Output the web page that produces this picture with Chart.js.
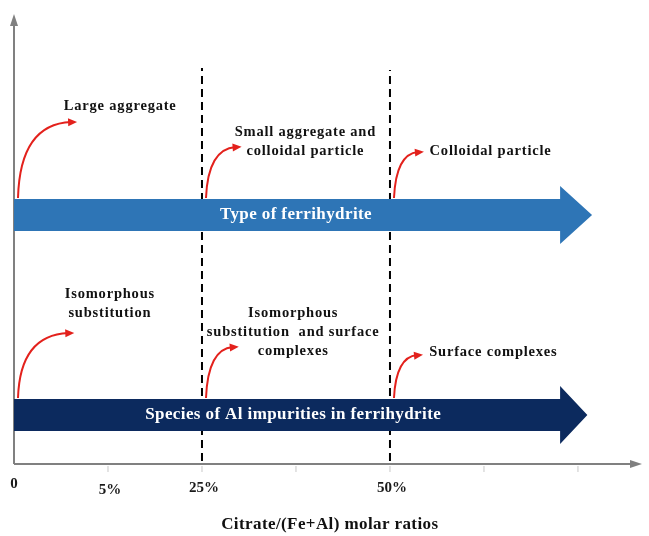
<!DOCTYPE html>
<html>
<head>
<meta charset="utf-8">
<script src="https://cdn.jsdelivr.net/npm/chart.js@4.4.0/dist/chart.umd.min.js"></script>
<style>
  html, body { margin: 0; padding: 0; background: #fff; }
  #wrap { width: 649px; height: 536px; }
</style>
</head>
<body>
<div id="wrap"><canvas id="myCanvas"></canvas></div>
<script>
// x axis: one unit per tick mark, y axis in plain height units
const tickLabels = ["0", "5%", "25%", "", "50%", "", ""];
const boundaries = [0, 2, 4];
const dashedLines = [2, 4];
const ferrihydriteTypes = [["Large aggregate"], ["Small aggregate and", "colloidal particle"], ["Colloidal particle"]];
const alSpecies = [["Isomorphous", "substitution"], ["Isomorphous", "substitution  and surface", "complexes"], ["Surface complexes"]];
const bandLabels = ["Type of ferrihydrite", "Species of Al impurities in ferrihydrite"];
const axisTitle = "Citrate/(Fe+Al) molar ratios";

// layout (y values measured from the x axis)
const X_MAX = 6.66, Y_MAX = 448;
const bands = [
  { y: 249, color: "#2e75b6", labelX: 3.0, end: 5.81, tip: 6.15, texts: ferrihydriteTypes,
    textPos: [[1.13, 358], [3.1, 332], [5.07, 313]], arrowEnd: [[0.65, 342], [0.4, 317], [0.34, 312]] },
  { y: 49, color: "#0c2a5e", labelX: 2.97, end: 5.81, tip: 6.1, texts: alSpecies,
    textPos: [[1.02, 170], [2.97, 151], [5.1, 112]], arrowEnd: [[0.62, 131], [0.37, 117], [0.33, 109]] }
];

const SERIF = "'Liberation Serif', 'Times New Roman', serif";

const diagram = {
  id: "diagram",
  afterDatasetsDraw(chart) {
    const ctx = chart.ctx;
    const xs = chart.scales.x, ys = chart.scales.y;
    const px = (v) => xs.getPixelForValue(v);
    const py = (v) => ys.getPixelForValue(v);
    ctx.save();

    // axes
    ctx.strokeStyle = "#808080";
    ctx.fillStyle = "#808080";
    ctx.lineWidth = 2;
    ctx.beginPath();
    ctx.moveTo(px(0), py(0));
    ctx.lineTo(px(0), py(Y_MAX) + 6);
    ctx.moveTo(px(0), py(0));
    ctx.lineTo(px(X_MAX) - 6, py(0));
    ctx.stroke();
    ctx.beginPath();
    ctx.moveTo(px(0), py(Y_MAX) - 2);
    ctx.lineTo(px(0) - 4, py(Y_MAX) + 10);
    ctx.lineTo(px(0) + 4, py(Y_MAX) + 10);
    ctx.closePath();
    ctx.fill();
    ctx.beginPath();
    ctx.moveTo(px(X_MAX) + 2, py(0));
    ctx.lineTo(px(X_MAX) - 10, py(0) - 4);
    ctx.lineTo(px(X_MAX) - 10, py(0) + 4);
    ctx.closePath();
    ctx.fill();

    // tick marks and labels
    ctx.strokeStyle = "#c8c8c8";
    ctx.lineWidth = 1;
    ctx.textAlign = "center";
    ctx.textBaseline = "middle";
    tickLabels.forEach((t, i) => {
      if (i > 0) {
        ctx.beginPath();
        ctx.moveTo(px(i), py(0) + 2);
        ctx.lineTo(px(i), py(0) + 8);
        ctx.stroke();
      }
      if (t) {
        ctx.fillStyle = "#1a1a1a";
        ctx.font = "bold 15px " + SERIF;
        ctx.fillText(t, px(i) + (i === 0 ? 0 : 2), py(0) + (i === 0 ? 20 : i === 1 ? 26 : 24));
      }
    });

    ctx.fillStyle = "#111";
    ctx.font = "bold 17px " + SERIF;
    ctx.letterSpacing = "0.4px";
    ctx.fillText(axisTitle, px(3.36), py(0) + 61);

    // bands
    bands.forEach((b, k) => {
      ctx.fillStyle = b.color;
      ctx.beginPath();
      ctx.moveTo(px(0), py(b.y + 16));
      ctx.lineTo(px(b.end), py(b.y + 16));
      ctx.lineTo(px(b.end), py(b.y + 29));
      ctx.lineTo(px(b.tip), py(b.y));
      ctx.lineTo(px(b.end), py(b.y - 29));
      ctx.lineTo(px(b.end), py(b.y - 16));
      ctx.lineTo(px(0), py(b.y - 16));
      ctx.closePath();
      ctx.fill();
      ctx.fillStyle = "#fff";
      ctx.font = "bold 17px " + SERIF;
      ctx.letterSpacing = "0.4px";
      ctx.fillText(bandLabels[k], px(b.labelX), py(b.y));

      boundaries.forEach((x0, i) => {
        // red curved arrow
        const sx = px(x0) + 4, sy = py(b.y + 17);
        const ex = px(x0 + b.arrowEnd[i][0]), ey = py(b.arrowEnd[i][1]);
        ctx.strokeStyle = "#e3211c";
        ctx.fillStyle = "#e3211c";
        ctx.lineWidth = 2;
        ctx.beginPath();
        ctx.moveTo(sx, sy);
        const cx = sx + 2, cy = ey + 2;
        ctx.quadraticCurveTo(cx, cy, ex - 4, ey);
        ctx.stroke();
        const ang = Math.atan2(ey - cy, ex - 4 - cx);
        ctx.save();
        ctx.translate(ex, ey);
        ctx.rotate(ang);
        ctx.beginPath();
        ctx.moveTo(2, 0);
        ctx.lineTo(-7, -4);
        ctx.lineTo(-7, 4);
        ctx.closePath();
        ctx.fill();
        ctx.restore();

        // stage text
        ctx.fillStyle = "#111";
        ctx.font = "bold 14.5px " + SERIF;
        ctx.letterSpacing = "0.8px";
        const lines = b.texts[i];
        lines.forEach((ln, j) => {
          ctx.fillText(ln, px(b.textPos[i][0]), py(b.textPos[i][1]) + j * 19);
        });
      });
    });
    ctx.restore();
  }
};

new Chart(document.getElementById("myCanvas"), {
  type: "scatter",
  data: {
    datasets: dashedLines.map((x, i) => ({
      type: "line",
      data: [{ x: x, y: 3 }, { x: x, y: i === 0 ? 396 : 394 }],
      borderColor: "#000",
      borderWidth: 2,
      borderDash: [8, 5],
      pointRadius: 0,
      fill: false
    }))
  },
  options: {
    responsive: true,
    maintainAspectRatio: false,
    animation: false,
    layout: { padding: { left: 14, right: 9, top: 16, bottom: 72 } },
    plugins: { legend: { display: false }, tooltip: { enabled: false } },
    scales: {
      x: { type: "linear", display: false, min: 0, max: X_MAX },
      y: { type: "linear", display: false, min: 0, max: Y_MAX }
    }
  },
  plugins: [diagram]
});
</script>
</body>
</html>
